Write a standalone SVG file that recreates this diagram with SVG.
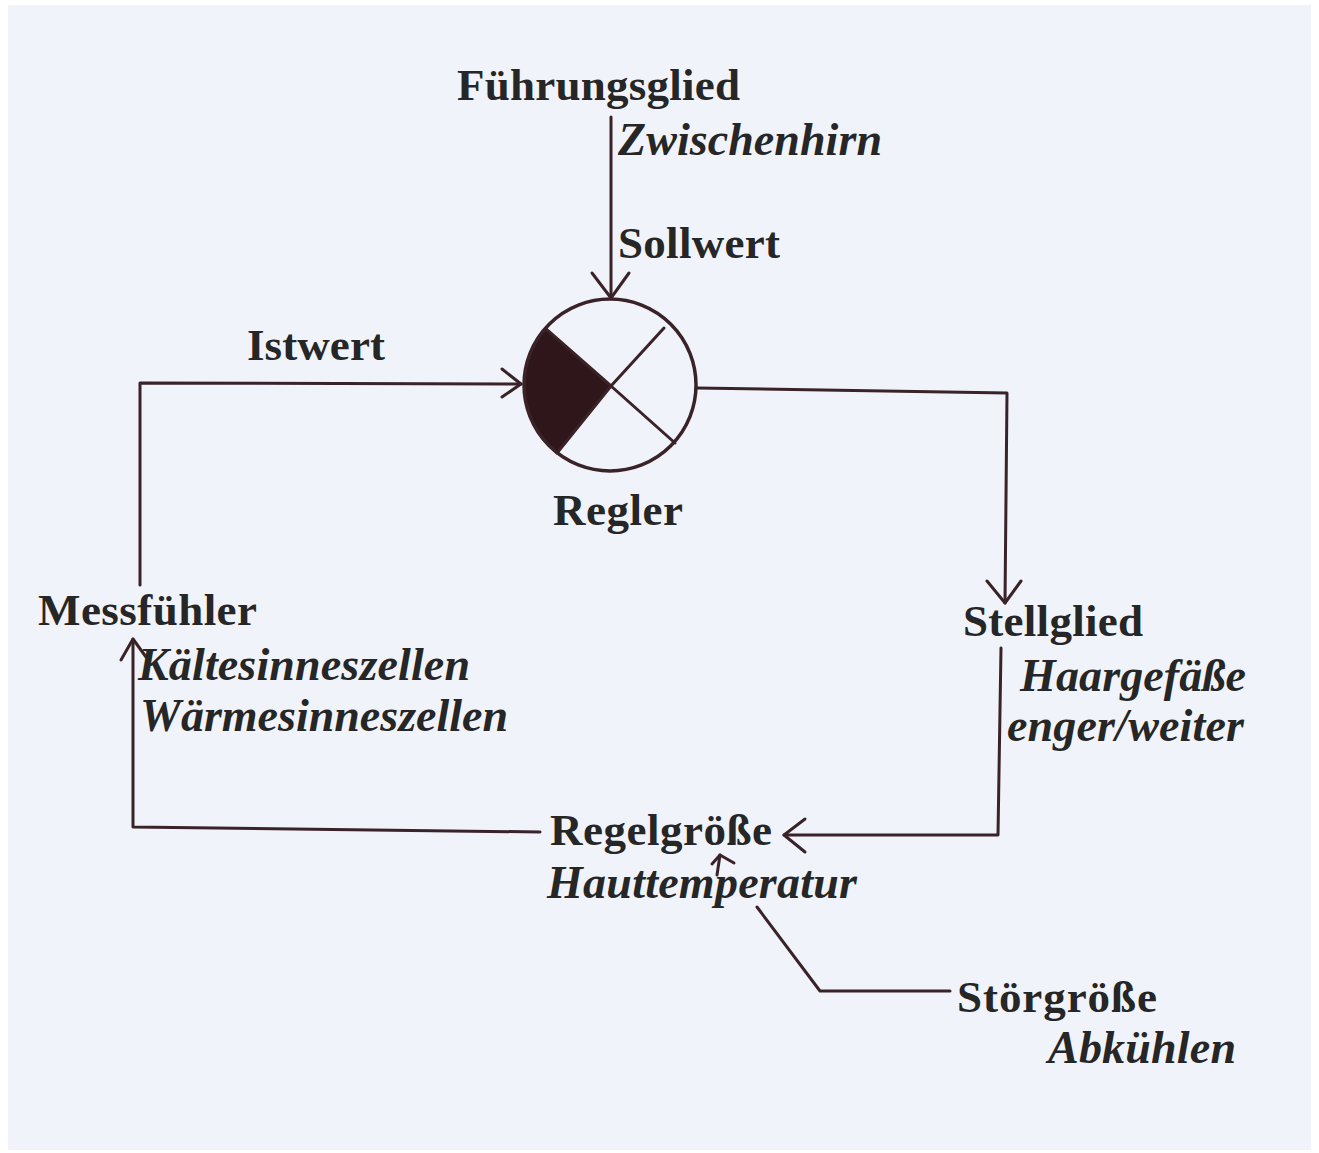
<svg xmlns="http://www.w3.org/2000/svg" width="1319" height="1153" viewBox="0 0 1319 1153">
<style>
.b{font-family:"Liberation Serif","Times New Roman",serif;font-weight:bold;font-size:45px;fill:#262626}
.i{font-family:"Liberation Serif","Times New Roman",serif;font-weight:bold;font-style:italic;font-size:46px;fill:#262626}
.ln{fill:none;stroke:#3a2328;stroke-width:3;stroke-linecap:round;stroke-linejoin:round}
</style>
<rect x="0" y="0" width="1319" height="1153" fill="#ffffff"/>
<rect x="8" y="5" width="1303" height="1145" fill="#f0f3f9"/>
<g id="connectors">
<path class="ln" d="M611,117 L611,298"/>
<path class="ln" d="M592,273 L611,298 L629,273"/>
<path class="ln" d="M140,585 L140,383 L521,384"/>
<path class="ln" d="M502,369 L521,384 L502,397"/>
<path class="ln" d="M697,388 L1007,393 L1005,603"/>
<path class="ln" d="M987,581 L1005,603 L1021,581"/>
<path class="ln" d="M1001,648 L998,835 L784,835"/>
<path class="ln" d="M805,819 L784,835 L805,852"/>
<path class="ln" d="M540,832 L133,827 L133,639"/>
<path class="ln" d="M121,660 L133,639 L146,657"/>
<path class="ln" d="M717,875 L720,855"/>
<path class="ln" d="M712,864 L720,855 L734,863"/>
<path class="ln" d="M757,907 L820,991 L950,991"/>
</g>
<g id="regler">
<path d="M611,386 L546,329 A86,86 0 0,0 557,453 Z" fill="#2e161a"/>
<circle cx="610" cy="385" r="86" fill="none" stroke="#3a2328" stroke-width="3.5"/>
<path class="ln" d="M546,329 L611,386 L664,328 M611,386 L675,443 M611,386 L557,453"/>
<text class="b" x="553" y="525" textLength="130">Regler</text>
</g>
<g id="fuehrungsglied">
<text class="b" x="457" y="100" textLength="283">Führungsglied</text>
<text class="i" x="618" y="155" textLength="264">Zwischenhirn</text>
</g>
<g id="sollwert"><text class="b" x="618" y="258" textLength="162">Sollwert</text></g>
<g id="istwert"><text class="b" x="247" y="360" textLength="138">Istwert</text></g>
<g id="messfuehler">
<text class="b" x="38" y="625" textLength="219">Messfühler</text>
<text class="i" x="138" y="680" textLength="332">Kältesinneszellen</text>
<text class="i" x="140" y="731" textLength="368">Wärmesinneszellen</text>
</g>
<g id="stellglied">
<text class="b" x="963" y="636" textLength="180">Stellglied</text>
<text class="i" x="1020" y="691" textLength="226">Haargefäße</text>
<text class="i" x="1007" y="741" textLength="237">enger/weiter</text>
</g>
<g id="regelgroesse">
<text class="b" x="550" y="845" textLength="222">Regelgröße</text>
<text class="i" x="547" y="898" textLength="310">Hauttemperatur</text>
</g>
<g id="stoergroesse">
<text class="b" x="957" y="1012" textLength="200">Störgröße</text>
<text class="i" x="1048" y="1063" textLength="188">Abkühlen</text>
</g>
</svg>
